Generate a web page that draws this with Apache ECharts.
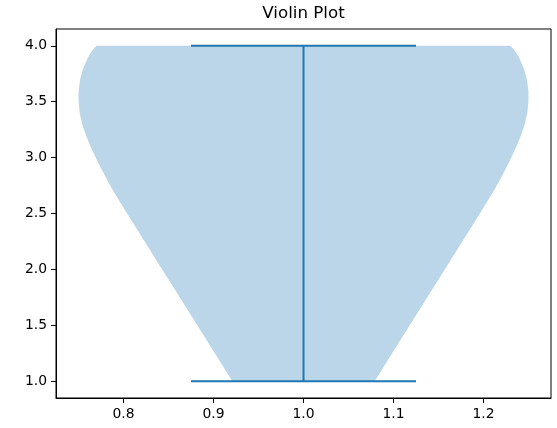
<!DOCTYPE html>
<html>
<head>
<meta charset="utf-8">
<script src="https://cdn.jsdelivr.net/npm/echarts@6/dist/echarts.min.js"></script>
<style>html,body{margin:0;padding:0;background:#fff}#c{width:557px;height:428px}</style>
</head>
<body>
<div id="c"></div>
<script>
// Violin outline: value levels and half-widths
const violinY = [1.0, 1.5, 2.0, 2.5, 2.6, 2.7, 2.8, 2.9, 3.0, 3.1, 3.2, 3.3, 3.4, 3.5, 3.55, 3.6, 3.7, 3.8, 3.9, 3.95, 4.0];
const violinHalfWidth = [0.079, 0.118, 0.157, 0.196, 0.2037, 0.2111, 0.2181, 0.2247, 0.2309, 0.2366, 0.2417, 0.2459, 0.2487, 0.2499, 0.25, 0.2498, 0.2482, 0.2447, 0.2393, 0.2352, 0.230];
const violinPosition = 1.0;
const dataMin = 1.0;
const dataMax = 4.0;
const capHalfWidth = 0.125;
const xTicks = [0.8, 0.9, 1.0, 1.1, 1.2];
const yTicks = [1.0, 1.5, 2.0, 2.5, 3.0, 3.5, 4.0];
const titleText = 'Violin Plot';

const chart = echarts.init(document.getElementById('c'), null, {renderer: 'canvas'});
const font = 'DejaVu Sans';
const blue = '#1f77b4';

const option = {
  animation: false,
  backgroundColor: '#fff',
  graphic: [{
    type: 'text',
    x: 303.5,
    y: 13.3,
    silent: true,
    style: {
      text: titleText,
      align: 'center',
      verticalAlign: 'middle',
      font: '16.7px "DejaVu Sans"',
      fill: '#000'
    }
  }],
  grid: {
    left: 56, right: 6, top: 29, bottom: 30,
    show: true, borderColor: '#000', borderWidth: 1, backgroundColor: 'transparent'
  },
  xAxis: {
    type: 'value', min: 0.725, max: 1.275,
    splitLine: {show: false},
    axisLine: {show: true, lineStyle: {color: '#000', width: 1}},
    axisTick: {show: true, length: 5, inside: false, customValues: xTicks, lineStyle: {color: '#000', width: 1}},
    axisLabel: {show: true, customValues: xTicks, margin: 9, fontFamily: font, fontSize: 13.9, color: '#000',
      formatter: v => v.toFixed(1)}
  },
  yAxis: {
    type: 'value', min: 0.85, max: 4.15,
    splitLine: {show: false},
    axisLine: {show: true, lineStyle: {color: '#000', width: 1}},
    axisTick: {show: true, length: 5, inside: false, customValues: yTicks, lineStyle: {color: '#000', width: 1}},
    axisLabel: {show: true, customValues: yTicks, margin: 9, fontFamily: font, fontSize: 13.9, color: '#000',
      formatter: v => v.toFixed(1)}
  },
  series: [
    {
      type: 'custom',
      data: [[violinPosition, dataMin]],
      silent: true,
      z: 1,
      renderItem: function (params, api) {
        const pts = [];
        for (let i = 0; i < violinY.length; i++) {
          pts.push(api.coord([violinPosition + violinHalfWidth[i], violinY[i]]));
        }
        for (let i = violinY.length - 1; i >= 0; i--) {
          pts.push(api.coord([violinPosition - violinHalfWidth[i], violinY[i]]));
        }
        return {
          type: 'polygon',
          shape: {points: pts},
          style: {fill: 'rgba(31,119,180,0.3)', stroke: null}
        };
      }
    },
    {
      type: 'line', z: 3, symbol: 'none', silent: true,
      lineStyle: {color: blue, width: 2},
      data: [[violinPosition, dataMin], [violinPosition, dataMax]]
    },
    {
      type: 'line', z: 3, symbol: 'none', silent: true,
      lineStyle: {color: blue, width: 2},
      data: [[violinPosition - capHalfWidth, dataMax], [violinPosition + capHalfWidth, dataMax]]
    },
    {
      type: 'line', z: 3, symbol: 'none', silent: true,
      lineStyle: {color: blue, width: 2},
      data: [[violinPosition - capHalfWidth, dataMin], [violinPosition + capHalfWidth, dataMin]]
    }
  ]
};
chart.setOption(option);
</script>
</body>
</html>
